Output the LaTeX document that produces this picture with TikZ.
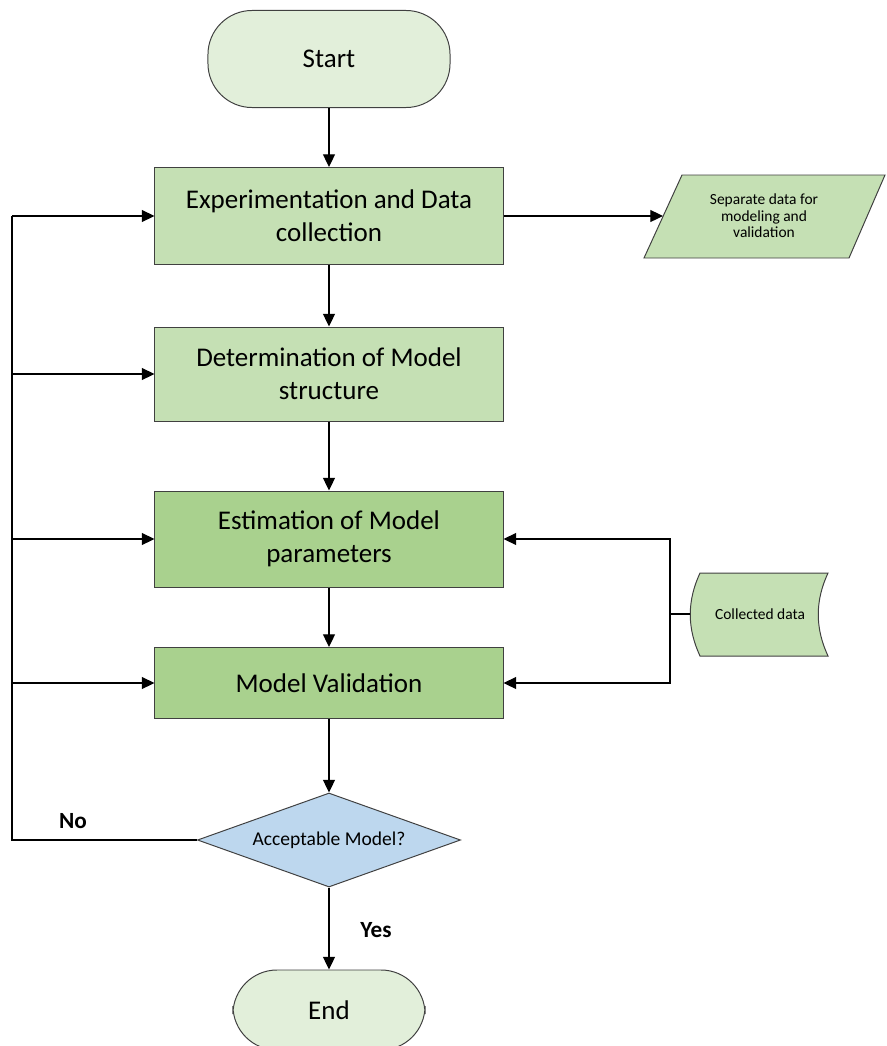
\documentclass[tikz,border=0pt]{standalone}
\usepackage{fontspec}
\setmainfont{Carlito}
\usetikzlibrary{shapes.geometric,arrows.meta}
\definecolor{termgreen}{HTML}{E2EFDA}
\definecolor{lightgreen}{HTML}{C5E0B4}
\definecolor{midgreen}{HTML}{A9D18E}
\definecolor{decblue}{HTML}{BDD7EE}
\definecolor{edgegray}{HTML}{404040}

\begin{document}
\begin{tikzpicture}[x=0.025cm,y=-0.025cm,>={Triangle[length=9pt,width=8.5pt]},line width=0.9pt,
box/.style={draw=edgegray,line width=0.7pt,minimum width=8.7cm,align=center,font=\fontsize{19.2}{23.5}\selectfont},
term/.style={box,fill=termgreen,rounded corners=1.1cm},
decide/.style={diamond,aspect=2.8,draw=edgegray,line width=0.7pt,fill=decblue,inner sep=0pt,minimum width=6.575cm,minimum height=2.35cm,font=\fontsize{13.9}{16}\selectfont},
small/.style={align=center,font=\fontsize{11}{11.8}\selectfont},
lbl/.style={font=\fontsize{16.5}{19}\selectfont\bfseries}]
\useasboundingbox (0,0) rectangle (887,1046);
\node[term, minimum width=6.05cm, minimum height=2.425cm] (start) at (329,59) {Start};
\node[box, fill=lightgreen, minimum height=2.425cm] (exp) at (329,216) {Experimentation and Data\\collection};
\node[box, fill=lightgreen, minimum height=2.35cm] (det) at (329,374) {Determination of Model\\structure};
\node[box, fill=midgreen, minimum height=2.4cm] (est) at (329,539) {Estimation of Model\\parameters};
\node[box, fill=midgreen, minimum height=1.775cm] (val) at (329,683) {Model Validation};
\node[decide] (dec) at (329,840) {Acceptable Model?};
\node[term, minimum width=4.8cm, minimum height=2cm] (end) at (329,1010) {End};
% data shapes on the right
\draw[draw=edgegray, fill=lightgreen, line width=0.7pt] (644,258) -- (682,175) -- (885,175) -- (849,258) -- cycle;
\node[small] (sep) at (764,216) {Separate data for\\modeling and\\validation};
\coordinate (sepin) at (663,216);
\draw[draw=edgegray, fill=lightgreen, line width=0.7pt] (700,573) -- (828,573) .. controls (815,601) and (815,628) .. (828,656) -- (700,656) .. controls (687,628) and (687,601) .. (700,573) -- cycle;
\node[small] (cd) at (760,614) {Collected data};
\coordinate (cdin) at (690,614);
\coordinate (rbus) at (670,614);
\coordinate (lbus) at (12,840);
% main flow
\draw[->] (start) -- (exp);
\draw[->] (exp) -- (det);
\draw[->] (det) -- (est);
\draw[->] (est) -- (val);
\draw[->] (val) -- (dec);
\draw[->] (dec) -- (end);
\draw[->] (exp.east) -- (sepin);
% feedback lines
\draw (dec.west) -- (lbus) -- (lbus |- exp);
\draw[->] (lbus |- exp) -- (exp.west);
\draw[->] (lbus |- det) -- (det.west);
\draw[->] (lbus |- est) -- (est.west);
\draw[->] (lbus |- val) -- (val.west);
\draw (cdin) -- (rbus);
\draw[->] (rbus) |- (est.east);
\draw[->] (rbus) |- (val.east);
\node[lbl] (no) at (73,821) {No};
\node[lbl] (yes) at (376,930) {Yes};
\end{tikzpicture}
\end{document}
